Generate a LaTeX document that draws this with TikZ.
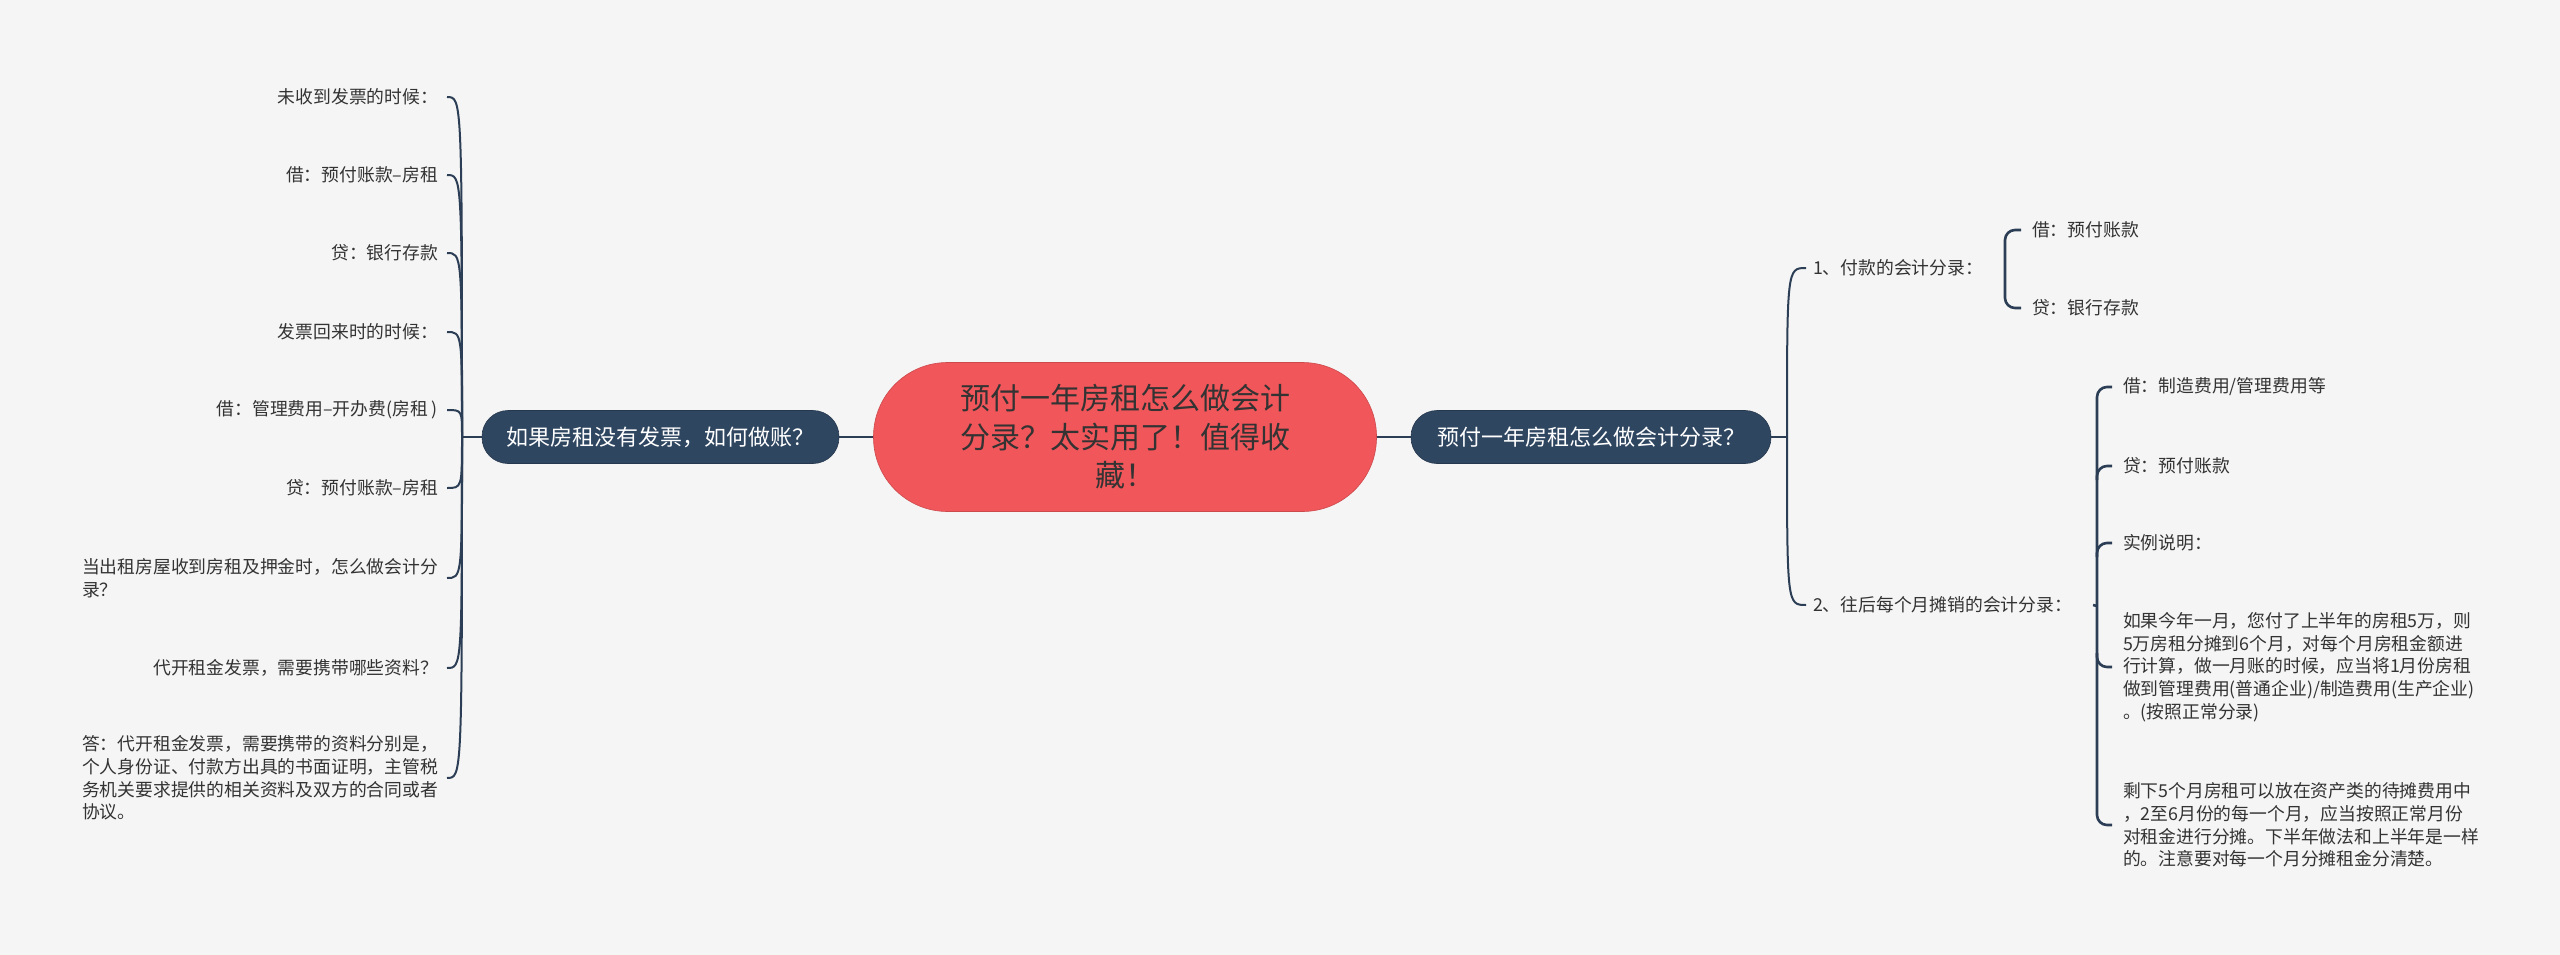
\documentclass[tikz,border=0pt]{standalone}
\usepackage{fontspec}
\setmainfont{Noto Sans CJK SC}
\usetikzlibrary{calc}
\definecolor{bg}{HTML}{F5F5F5}
\definecolor{navy}{HTML}{2F4661}
\definecolor{linec}{HTML}{2C3E55}
\definecolor{redn}{HTML}{F0565A}
\definecolor{txt}{HTML}{333333}
\begin{document}
\begin{tikzpicture}[x=1pt,y=-1pt,
  conn/.style={draw=linec,line width=2pt},
  brk/.style={draw=linec,line width=2.6pt,rounded corners=10pt},
  rootnode/.style={fill=redn,draw=redn!85!black,line width=0.6pt,rounded corners=74pt,minimum width=503pt,minimum height=149pt,align=center,text=txt,font=\fontsize{30}{38.5}\selectfont,inner sep=0pt},
  mainnode/.style={fill=navy,draw=navy!80!black,line width=0.6pt,rounded corners=26pt,minimum height=53pt,text=white,font=\fontsize{22}{26}\selectfont,inner sep=0pt},
  leafL/.style={anchor=east,outer xsep=9pt,inner sep=0pt,align=left,text=txt,font=\fontsize{17.8}{22.6}\selectfont},
  leafR/.style={anchor=west,outer xsep=7pt,inner sep=0pt,align=left,text=txt,font=\fontsize{17.8}{22.6}\selectfont},
  leafB/.style={anchor=west,outer xsep=11pt,inner sep=0pt,align=left,text=txt,font=\fontsize{17.8}{22.6}\selectfont}]
\fill[bg] (0,0) rectangle (2560,955);
\useasboundingbox (0,0) rectangle (2560,955);

% root and main nodes
\node[rootnode] (root) at (1125,437) {预付一年房租怎么做会计\\分录？太实用了！值得收\\藏！};
\node[mainnode,minimum width=357pt] (L) at (660.5,437) {如果房租没有发票，如何做账？};
\node[mainnode,minimum width=360pt] (R) at (1591,437) {预付一年房租怎么做会计分录？};
\draw[conn] (root.west) -- (L.east);
\draw[conn] (root.east) -- (R.west);

% left branch
\coordinate (jl) at (462,437);
\draw[conn] (L.west) -- (jl);
\node[leafL] (l1) at (447,97) {未收到发票的时候：};
\node[leafL] (l2) at (447,175) {借：预付账款–房租};
\node[leafL] (l3) at (447,253) {贷：银行存款};
\node[leafL] (l4) at (447,332) {发票回来时的时候：};
\node[leafL] (l5) at (447,410) {借：管理费用–开办费(房租 )};
\node[leafL] (l6) at (447,488) {贷：预付账款–房租};
\node[leafL] (l7) at (447,578) {当出租房屋收到房租及押金时，怎么做会计分\\录？};
\node[leafL] (l8) at (447,668) {代开租金发票，需要携带哪些资料？};
\node[leafL] (l9) at (447,778) {答：代开租金发票，需要携带的资料分别是，\\个人身份证、付款方出具的书面证明，主管税\\务机关要求提供的相关资料及双方的合同或者\\协议。};
\foreach \n in {l1,l2,l3,l4,l5,l6,l7,l8,l9}
  \draw[conn] (jl) .. controls (jl |- \n.east) .. (\n.east);

% right branch
\coordinate (jr) at (1787,437);
\draw[conn] (R.east) -- (jr);
\node[leafR] (r1) at (1806,268) {1、付款的会计分录：};
\node[leafR] (r2) at (1806,605) {2、往后每个月摊销的会计分录：};
\foreach \n in {r1,r2}
  \draw[conn] (jr) .. controls (jr |- \n.west) .. (\n.west);

% bracket of r1
\coordinate (b1) at (2005,268);
\node[leafB] (r11) at (2021,230) {借：预付账款};
\node[leafB] (r12) at (2021,308) {贷：银行存款};
\draw[brk] ($(r1.east)+(14,0)$) -- (b1);
\draw[brk] (r11.west) -| (b1) |- (r12.west);

% bracket of r2
\coordinate (b2) at (2097,606);
\node[leafB] (r21) at (2112,387) {借：制造费用/管理费用等};
\node[leafB] (r22) at (2112,466) {贷：预付账款};
\node[leafB] (r23) at (2112,543) {实例说明：};
\node[leafB] (r24) at (2112,667) {如果今年一月，您付了上半年的房租5万，则\\5万房租分摊到6个月，对每个月房租金额进\\行计算，做一月账的时候，应当将1月份房租\\做到管理费用(普通企业)/制造费用(生产企业)\\。(按照正常分录)};
\node[leafB] (r25) at (2112,825) {剩下5个月房租可以放在资产类的待摊费用中\\，2至6月份的每一个月，应当按照正常月份\\对租金进行分摊。下半年做法和上半年是一样\\的。注意要对每一个月分摊租金分清楚。};
\draw[brk] ($(r2.east)+(14,0)$) -- (b2);
\draw[brk] (r21.west) -| (b2) |- (r25.west);
\draw[brk] ($(b2 |- r22.west)+(0,14)$) |- (r22.west);
\draw[brk] ($(b2 |- r23.west)+(0,14)$) |- (r23.west);
\draw[brk] ($(b2 |- r24.west)+(0,-14)$) |- (r24.west);
\end{tikzpicture}
\end{document}
